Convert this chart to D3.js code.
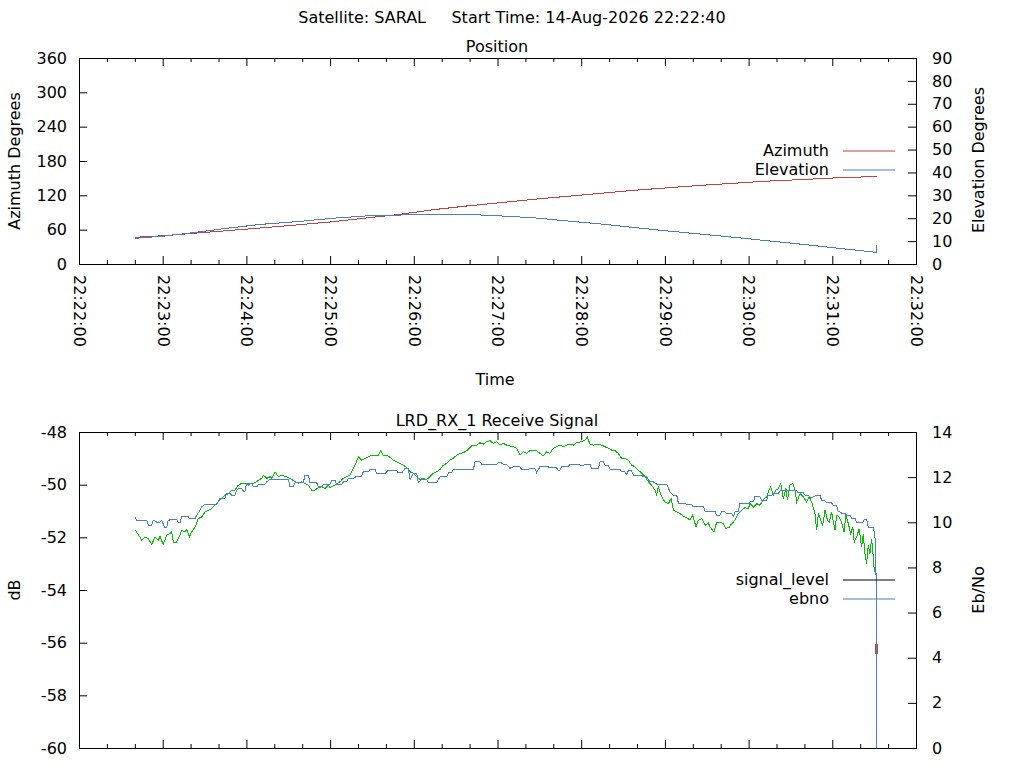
<!DOCTYPE html>
<html>
<head>
<meta charset="utf-8">
<script src="https://cdn.jsdelivr.net/npm/d3@7"></script>
<style>
body { margin: 0; background: #fff; }
text { font-family: "DejaVu Sans", sans-serif; font-size: 16px; fill: #000; }
</style>
</head>
<body>
<svg id="chart" width="1024" height="768"></svg>
<script>
// pass header
var satellite = "SARAL";
var startTime = "14-Aug-2026 22:22:40";

// time axis, seconds after 22:22:00
var xTickSeconds = [0, 60, 120, 180, 240, 300, 360, 420, 480, 540, 600];
var xTickLabels = ["22:22:00", "22:23:00", "22:24:00", "22:25:00", "22:26:00", "22:27:00",
	"22:28:00", "22:29:00", "22:30:00", "22:31:00", "22:32:00"];

var azTicks = [0, 60, 120, 180, 240, 300, 360];
var elTicks = [0, 10, 20, 30, 40, 50, 60, 70, 80, 90];
var dbTicks = [-60, -58, -56, -54, -52, -50, -48];
var ebTicks = [0, 2, 4, 6, 8, 10, 12, 14];

// position
var posTime = [40, 61, 82, 106, 130, 158, 182, 206, 230, 254, 278, 302, 326, 350, 374, 397, 421, 445, 469, 493, 517, 541, 571.5, 572];
var azimuth = [46.7, 49.5, 53.6, 58.2, 62.9, 68.7, 73.9, 80.4, 86.8, 94.9, 101.4, 107.2, 113.0, 118.3, 123.5, 128.6, 133.0, 137.3, 141.0, 144.8, 147.4, 150.3, 153.0, 153.2];
var elevation = [11.2, 12.2, 13.7, 15.6, 17.3, 18.6, 20.0, 21.0, 21.4, 21.7, 21.7, 21.0, 20.2, 18.8, 17.5, 16.0, 14.5, 13.1, 11.7, 10.2, 8.7, 7.1, 5.1, 8.3];

// receive signal level, dB
var sigTime = [40.5, 41.3, 43.7, 44.9, 47.3, 49.7, 52.1, 54.5, 56.9, 58.0, 60.4, 62.8, 65.2, 66.4, 67.6, 70.0, 72.4, 73.6, 76.0, 77.2,
	79.1, 80.7, 82.4, 84.3, 85.5, 87.9, 90.3, 92.7, 95.1, 97.5, 99.8, 102.2, 104.6, 107.0, 109.4, 111.8, 114.2, 116.6, 119.0, 121.3,
	123.7, 126.2, 128.6, 131.0, 132.2, 134.6, 137.0, 138.2, 140.5, 142.9, 145.3, 147.7, 150.1, 152.5, 154.9, 157.3, 159.6, 162.0, 164.4, 166.8,
	169.2, 171.6, 174.0, 176.4, 178.8, 180.0, 183.5, 187.1, 189.5, 191.9, 194.3, 196.7, 197.9, 200.3, 202.6, 205.0, 208.6, 212.2, 214.6, 216.3,
	218.2, 220.6, 223.0, 225.4, 227.7, 230.1, 232.5, 234.9, 237.3, 239.7, 242.1, 244.5, 246.8, 249.2, 251.6, 254.0, 256.4, 258.8, 261.2, 263.6,
	265.9, 268.3, 270.7, 273.1, 275.5, 277.9, 281.5, 285.0, 287.4, 289.8, 292.2, 294.6, 297.0, 299.4, 301.8, 304.2, 306.6, 308.9, 311.3, 313.7,
	316.1, 318.5, 320.9, 323.3, 328.0, 330.4, 332.8, 335.2, 337.6, 340.0, 342.4, 344.8, 347.1, 349.5, 351.9, 354.3, 356.7, 360.4, 362.8, 364.4,
	366.3, 368.6, 371.1, 374.7, 377.1, 379.5, 381.9, 384.2, 386.6, 389.0, 391.4, 393.8, 396.2, 398.6, 401.0, 403.4, 405.8, 408.1, 410.5, 412.9,
	414.1, 415.3, 417.7, 420.1, 422.5, 424.4, 426.1, 428.5, 430.9, 433.2, 435.6, 438.0, 439.9, 442.3, 444.0, 446.4, 448.8, 451.2, 452.4, 455.2,
	457.1, 459.5, 461.9, 463.8, 466.2, 467.9, 470.3, 472.6, 475.0, 477.4, 479.8, 481.0, 483.4, 485.8, 488.2, 490.6, 493.0, 494.1, 495.8, 497.7,
	499.6, 501.3, 503.0, 504.9, 506.8, 507.8, 509.7, 511.6, 513.3, 514.5, 516.9, 519.2, 521.6, 523.5, 525.2, 527.6, 528.8, 530.0, 531.7, 533.1,
	534.8, 536.5, 537.8, 539.5, 541.9, 543.1, 545.0, 546.7, 548.4, 549.8, 551.5, 553.2, 554.7, 555.7, 557.4, 559.3, 561.0, 562.2, 563.4, 564.6,
	565.8, 567.0, 568.2, 569.4, 570.1, 571.4, 571.4, 571.4];
var sigLevel = [-51.73, -51.80, -51.99, -52.11, -51.99, -52.05, -52.27, -51.99, -52.11, -51.96, -52.27, -51.92, -51.86, -51.80, -52.18, -52.18, -51.92, -51.73, -51.80, -51.71,
	-51.99, -51.80, -51.67, -51.48, -51.29, -51.23, -51.04, -50.97, -50.91, -50.78, -50.66, -50.53, -50.40, -50.34, -50.21, -50.21, -50.02, -49.95, -49.95, -50.02,
	-49.95, -49.93, -49.83, -49.76, -49.64, -49.76, -49.70, -49.76, -49.51, -49.70, -49.64, -49.68, -49.73, -49.80, -49.89, -49.95, -49.89, -49.95, -50.02, -50.21,
	-50.21, -50.11, -50.08, -50.15, -50.02, -50.11, -50.02, -49.89, -49.76, -49.70, -49.64, -49.38, -49.26, -48.94, -49.07, -49.00, -48.91, -48.89, -48.89, -48.71,
	-48.91, -48.89, -48.96, -49.07, -49.13, -49.19, -49.26, -49.35, -49.51, -49.57, -49.70, -49.80, -49.76, -49.80, -49.70, -49.57, -49.51, -49.42, -49.26, -49.19,
	-49.07, -49.00, -48.88, -48.81, -48.79, -48.71, -48.53, -48.50, -48.41, -48.46, -48.37, -48.33, -48.43, -48.37, -48.50, -48.43, -48.50, -48.53, -48.56, -48.62,
	-48.88, -48.75, -48.81, -48.71, -48.71, -48.81, -48.91, -48.75, -48.81, -48.62, -48.56, -48.50, -48.56, -48.50, -48.46, -48.50, -48.41, -48.37, -48.30, -48.20,
	-48.46, -48.50, -48.46, -48.50, -48.56, -48.62, -48.69, -48.71, -48.81, -49.00, -49.00, -49.07, -49.26, -49.32, -49.45, -49.57, -49.70, -49.89, -50.02, -50.21,
	-50.40, -50.08, -50.46, -50.66, -50.72, -50.53, -50.97, -51.04, -51.10, -51.20, -51.25, -51.35, -51.16, -51.61, -51.35, -51.29, -51.54, -51.46, -51.61, -51.80,
	-51.42, -51.42, -51.48, -51.67, -51.61, -51.48, -51.35, -51.10, -50.97, -50.87, -50.91, -50.72, -50.85, -50.72, -50.78, -50.57, -50.46, -50.27, -50.08, -50.40,
	-50.21, -50.15, -49.95, -50.53, -50.15, -50.59, -50.02, -49.95, -50.21, -50.66, -50.34, -50.46, -50.66, -50.46, -50.66, -51.10, -51.73, -51.10, -51.35, -51.54,
	-50.97, -51.35, -51.42, -51.04, -51.73, -51.16, -51.23, -51.42, -51.80, -51.16, -51.48, -51.86, -51.61, -52.18, -51.99, -51.67, -52.37, -51.86, -52.62, -53.00,
	-52.30, -52.62, -52.05, -52.75, -53.26, -53.38, -56.04, -56.42];
var sigAlarm = -55; // below this the trace is drawn red

// Eb/No
var ebTime = [40.1, 41.3, 48.5, 49.7, 52.1, 53.3, 55.7, 58.0, 59.2, 61.6, 62.8, 64.0, 66.4, 70.0, 71.2, 72.4, 73.6, 78.3, 79.5, 83.1,
	84.3, 86.7, 87.9, 90.3, 98.6, 99.8, 101.0, 104.6, 105.8, 108.2, 109.4, 111.8, 113.0, 114.2, 116.6, 117.8, 119.0, 120.1, 123.7, 125.0,
	127.4, 128.6, 133.4, 134.6, 137.0, 150.1, 151.3, 153.7, 154.9, 160.8, 162.0, 164.4, 165.6, 170.4, 171.6, 174.0, 175.2, 180.0, 181.1, 183.5,
	184.7, 188.3, 189.5, 191.9, 193.1, 196.7, 199.1, 202.6, 203.8, 207.4, 208.6, 212.2, 213.4, 219.4, 221.8, 227.7, 228.9, 231.3, 233.7, 236.1,
	237.3, 239.7, 242.1, 243.3, 245.6, 249.2, 250.4, 256.4, 258.8, 263.6, 264.8, 267.1, 268.3, 282.7, 283.9, 287.4, 288.6, 299.4, 301.8, 304.2,
	306.6, 308.9, 311.3, 316.1, 317.3, 322.1, 323.3, 326.8, 328.0, 330.4, 336.4, 337.6, 342.4, 343.6, 344.8, 346.0, 350.7, 351.9, 357.9, 359.2,
	361.6, 364.0, 366.3, 367.5, 372.3, 373.5, 375.9, 377.1, 379.5, 380.7, 387.8, 389.0, 391.4, 392.6, 393.8, 396.2, 397.4, 403.4, 404.6, 406.9,
	409.3, 411.7, 414.1, 421.3, 423.7, 426.1, 428.5, 429.7, 433.2, 435.6, 439.2, 440.4, 442.8, 445.2, 447.6, 448.8, 455.9, 457.1, 459.5, 460.7,
	463.1, 464.3, 467.9, 469.1, 470.3, 472.6, 473.8, 479.8, 481.0, 483.4, 484.6, 485.8, 488.2, 489.4, 493.0, 494.1, 496.5, 497.7, 501.3, 502.5,
	514.5, 515.7, 519.2, 520.4, 522.8, 524.0, 526.4, 528.8, 531.2, 532.4, 534.8, 536.0, 539.5, 540.7, 543.1, 544.3, 545.5, 546.7, 549.1, 550.3,
	552.7, 553.9, 556.3, 557.5, 561.9, 563.1, 564.7, 565.8, 569.4, 570.7, 571.3, 571.5];
var ebno = [10.24, 10.09, 10.09, 9.87, 9.87, 10.09, 10.01, 10.01, 10.09, 9.76, 9.76, 10.09, 10.12, 10.12, 9.99, 9.99, 10.24, 10.24, 10.16, 10.16,
	10.31, 10.53, 10.68, 10.79, 10.79, 10.90, 11.05, 11.05, 11.28, 11.28, 11.20, 11.20, 11.42, 11.50, 11.50, 11.38, 11.38, 11.72, 11.72, 11.57,
	11.57, 11.69, 11.69, 11.79, 11.90, 11.90, 11.57, 11.57, 11.75, 11.75, 12.09, 12.09, 11.75, 11.75, 11.57, 11.57, 11.69, 11.69, 11.87, 11.87,
	11.68, 11.68, 11.79, 11.79, 11.94, 11.94, 12.04, 12.04, 12.24, 12.24, 12.34, 12.34, 12.16, 12.16, 12.31, 12.31, 12.19, 12.19, 12.39, 12.39,
	11.90, 12.16, 12.16, 11.75, 11.91, 11.91, 11.76, 11.76, 12.01, 12.01, 12.19, 12.19, 12.34, 12.34, 12.68, 12.68, 12.58, 12.58, 12.68, 12.56,
	12.56, 12.39, 12.46, 12.46, 12.34, 12.34, 12.39, 12.39, 12.19, 12.46, 12.46, 12.41, 12.41, 12.31, 12.31, 12.46, 12.46, 12.58, 12.58, 12.53,
	12.53, 12.58, 12.58, 12.39, 12.39, 12.68, 12.68, 12.53, 12.53, 12.34, 12.34, 12.24, 12.24, 12.12, 12.28, 12.28, 12.09, 12.09, 12.01, 12.01,
	11.79, 11.79, 11.69, 11.69, 11.35, 11.20, 11.20, 10.83, 10.83, 10.80, 10.80, 10.68, 10.68, 10.71, 10.71, 10.49, 10.49, 10.31, 10.31, 10.46,
	10.46, 10.39, 10.39, 10.27, 10.46, 10.46, 10.83, 10.83, 10.90, 10.90, 11.16, 11.16, 11.12, 10.98, 10.98, 11.20, 11.20, 11.28, 11.28, 11.39,
	11.39, 11.30, 11.30, 11.20, 11.20, 11.12, 11.12, 11.20, 11.20, 10.95, 10.95, 10.86, 10.86, 10.76, 10.76, 10.46, 10.46, 10.41, 10.41, 10.31,
	10.31, 10.16, 10.16, 10.01, 10.01, 10.12, 10.12, 9.79, 9.79, 9.28, 9.28, 0];

var RED = "#c8413f", BLUE = "#4a7fc3", GREEN = "#00c000";

var svg = d3.select("#chart");
svg.append("rect").attr("width", 1024).attr("height", 768).attr("fill", "#fff");

var x = d3.scaleLinear().domain([0, 600]).range([79, 916]);
var top1 = 58, bot1 = 264, top2 = 432, bot2 = 748;

var yAz = d3.scaleLinear().domain([0, 360]).range([bot1, top1]);
var yEl = d3.scaleLinear().domain([0, 90]).range([bot1, top1]);
var yDb = d3.scaleLinear().domain([-60, -48]).range([bot2, top2]);
var yEb = d3.scaleLinear().domain([0, 14]).range([bot2, top2]);

var minorSeconds = d3.range(0, 601, 20).filter(function(s) { return s % 60 != 0; });
var plain = function(d) { return String(d); }; // keep ascii hyphen for negatives

function noDomain(g) { g.select(".domain").remove(); }

// ticks on bottom + top borders, optional rotated labels
function timeAxis(top, bottom, withLabels) {
	var bx = svg.append("g").attr("transform", "translate(0," + bottom + ")")
		.call(d3.axisBottom(x).tickValues(xTickSeconds).tickSize(-8).tickSizeOuter(0)
			.tickFormat(function(d, i) { return withLabels ? xTickLabels[i] : ""; }))
		.call(noDomain);
	bx.selectAll("text")
		.attr("transform", "rotate(90)")
		.attr("x", 11).attr("y", 0).attr("dy", "0.35em")
		.style("text-anchor", "start");
	svg.append("g").attr("transform", "translate(0," + bottom + ")")
		.call(d3.axisBottom(x).tickValues(minorSeconds).tickSize(-4).tickSizeOuter(0).tickFormat(""))
		.call(noDomain);
	svg.append("g").attr("transform", "translate(0," + top + ")")
		.call(d3.axisTop(x).tickValues(xTickSeconds).tickSize(-8).tickSizeOuter(0).tickFormat(""))
		.call(noDomain);
	svg.append("g").attr("transform", "translate(0," + top + ")")
		.call(d3.axisTop(x).tickValues(minorSeconds).tickSize(-4).tickSizeOuter(0).tickFormat(""))
		.call(noDomain);
}

function valueAxes(yL, ticksL, yR, ticksR) {
	svg.append("g").attr("transform", "translate(79,0)")
		.call(d3.axisLeft(yL).tickValues(ticksL).tickSize(-8).tickSizeOuter(0).tickPadding(12).tickFormat(plain))
		.call(noDomain);
	svg.append("g").attr("transform", "translate(916,0)")
		.call(d3.axisRight(yR).tickValues(ticksR).tickSize(-8).tickSizeOuter(0).tickPadding(16).tickFormat(plain))
		.call(noDomain);
}

function frame(top, bottom) {
	svg.append("rect")
		.attr("x", 79.5).attr("y", top + 0.5)
		.attr("width", 837).attr("height", bottom - top)
		.attr("fill", "none").attr("stroke", "#000").attr("stroke-width", 1);
}

function label(txt, px, py, rot) {
	var t = svg.append("text").attr("x", px).attr("y", py)
		.attr("text-anchor", "middle").attr("dominant-baseline", "central")
		.style("white-space", "pre").text(txt);
	if (rot) t.attr("transform", "rotate(" + rot + "," + px + "," + py + ")");
	return t;
}

function legendRow(txt, py, color) {
	svg.append("text").attr("x", 829).attr("y", py)
		.attr("text-anchor", "end").attr("dominant-baseline", "central").text(txt);
	svg.append("line").attr("x1", 843).attr("x2", 895).attr("y1", py + 0.5).attr("y2", py + 0.5)
		.attr("stroke", color).attr("stroke-width", 1);
}

function drawLine(times, vals, yScale, color, width) {
	var line = d3.line()
		.x(function(d, i) { return x(times[i]); })
		.y(function(d) { return yScale(d); });
	svg.append("path").datum(vals)
		.attr("d", line)
		.attr("fill", "none").attr("stroke", color).attr("stroke-width", width || 1)
		.attr("shape-rendering", "crispEdges");
}

// ---------------- titles ----------------
label("Satellite: " + satellite + "     Start Time: " + startTime, 512, 17);
label("Position", 497, 46);
label("LRD_RX_1 Receive Signal", 497, 420);
label("Time", 495, 379);

// ---------------- position panel ----------------
timeAxis(top1, bot1, true);
valueAxes(yAz, azTicks, yEl, elTicks);
frame(top1, bot1);
label("Azimuth Degrees", 14, 161, -90);
label("Elevation Degrees", 978, 160, -90);

drawLine(posTime, azimuth, yAz, RED);
drawLine(posTime, elevation, yEl, BLUE);
legendRow("Azimuth", 150.5, RED);
legendRow("Elevation", 169.5, BLUE);

// ---------------- signal panel ----------------
timeAxis(top2, bot2, false);
valueAxes(yDb, dbTicks, yEb, ebTicks);
frame(top2, bot2);
label("dB", 14, 590, -90);
label("Eb/No", 978, 590, -90);

// signal trace: each segment takes the colour of its start point
var runs = [];
for (var i = 0; i < sigLevel.length - 1; i++) {
	var c = sigLevel[i] < sigAlarm ? RED : GREEN;
	if (!runs.length || runs[runs.length - 1].color != c) runs.push({ color: c, idx: [i] });
	runs[runs.length - 1].idx.push(i + 1);
}
runs.forEach(function(r) {
	drawLine(r.idx.map(function(k) { return sigTime[k]; }),
		r.idx.map(function(k) { return sigLevel[k]; }), yDb, r.color, r.color == RED ? 3 : 1);
});
drawLine(ebTime, ebno, yEb, BLUE);

legendRow("signal_level", 579.5, "#000");
legendRow("ebno", 598.5, BLUE);
</script>
</body>
</html>
